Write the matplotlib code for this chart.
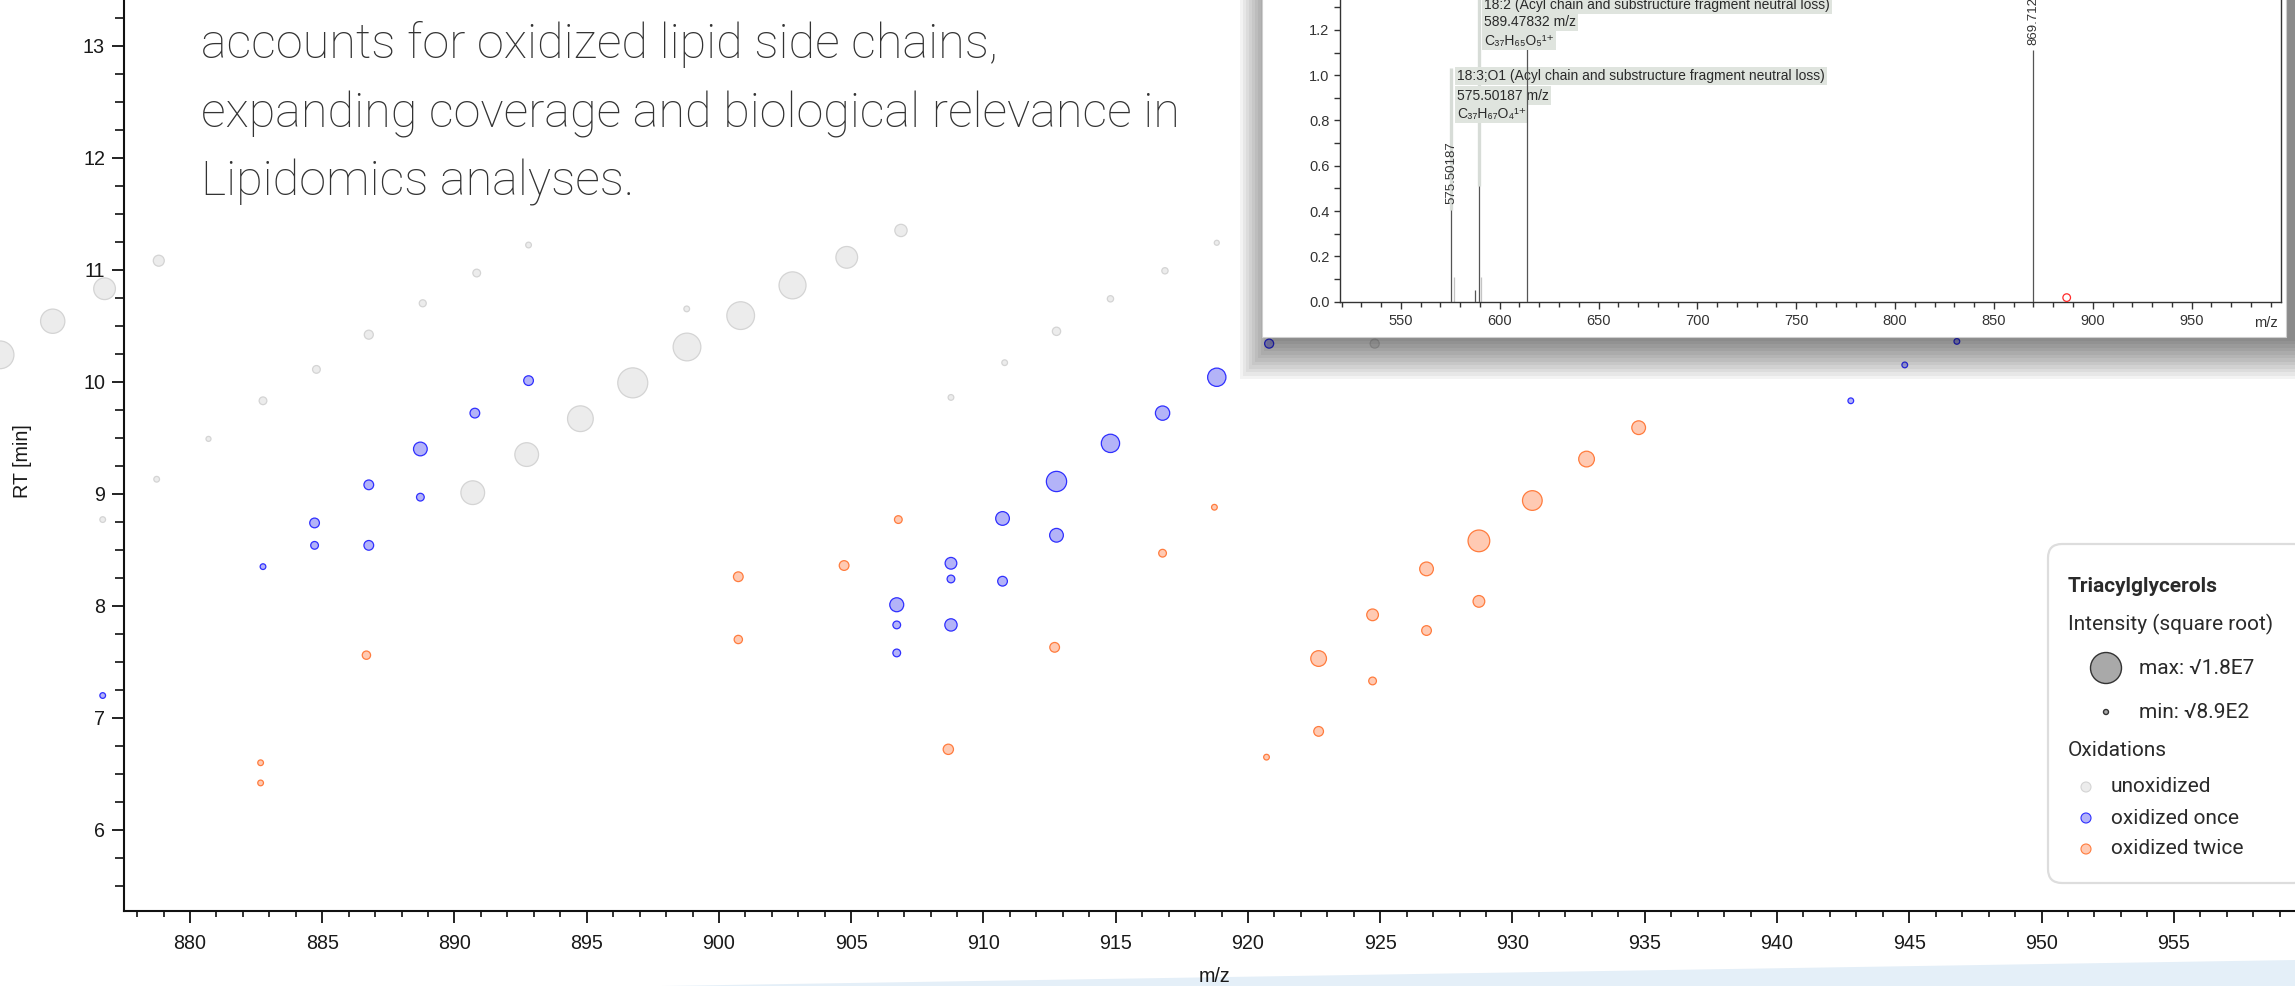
import numpy as np
import matplotlib.pyplot as plt
import matplotlib.transforms as mtransforms
from matplotlib.patches import Rectangle, FancyBboxPatch, Polygon, Circle
from matplotlib.ticker import MultipleLocator

W, H, DPI = 2295, 986, 100

## triacylglycerol features: m/z, retention time [min], intensity
unox_mz = [872.82, 874.81, 876.77, 878.82, 878.74, 876.70, 880.70, 882.76, 884.78, 886.76,
           888.80, 890.84, 892.80, 890.69, 892.73, 894.76, 896.74, 898.79, 900.82, 902.78,
           904.83, 906.88, 898.78, 908.77, 910.80, 912.76, 914.80, 916.86, 918.82, 924.79]
unox_rt = [10.24, 10.54, 10.83, 11.08, 9.13, 8.77, 9.49, 9.83, 10.11, 10.42,
           10.70, 10.97, 11.22, 9.01, 9.35, 9.67, 9.99, 10.31, 10.59, 10.86,
           11.11, 11.35, 10.65, 9.86, 10.17, 10.45, 10.74, 10.99, 11.24, 10.34]
unox_int = [1.5e7, 1.1e7, 8.4e6, 1.35e6, 9.3e4, 9.3e4, 3.7e4, 4.0e5, 4.0e5, 7.1e5,
            2.7e5, 4.0e5, 9.3e4, 1.04e7, 1.04e7, 1.26e7, 1.8e7, 1.5e7, 1.5e7, 1.41e7,
            8.4e6, 1.89e6, 9.3e4, 9.3e4, 9.3e4, 5.3e5, 1.6e5, 1.6e5, 3.7e4, 7.1e5]

ox1_mz = [876.70, 882.76, 884.71, 884.71, 886.76, 886.76, 888.71, 888.71, 890.77, 892.80,
          906.72, 906.72, 906.72, 908.77, 908.77, 908.77, 910.72, 910.72, 912.76, 912.76,
          914.80, 916.77, 918.82, 920.80, 942.79, 944.83, 946.80]
ox1_rt = [7.20, 8.35, 8.74, 8.54, 9.08, 8.54, 9.40, 8.97, 9.72, 10.01,
          8.01, 7.83, 7.58, 8.38, 8.24, 7.83, 8.78, 8.22, 9.11, 8.63,
          9.45, 9.72, 10.04, 10.34, 9.83, 10.15, 10.36]
ox1_int = [9.3e4, 9.3e4, 9.1e5, 4.0e5, 9.1e5, 9.1e5, 2.57e6, 4.0e5, 9.1e5, 9.1e5,
           2.7e6, 4.0e5, 4.0e5, 1.63e6, 4.0e5, 1.89e6, 2.57e6, 9.1e5, 7.1e6, 2.57e6,
           5.5e6, 2.89e6, 5.5e6, 7.1e5, 9.3e4, 9.3e4, 9.3e4]

ox2_mz = [882.67, 882.67, 886.67, 900.73, 900.73, 904.73, 906.78, 908.67, 912.69, 916.77,
          918.73, 920.70, 922.67, 922.67, 924.71, 924.71, 926.75, 926.75, 928.73, 928.73,
          930.75, 932.80, 934.77]
ox2_rt = [6.60, 6.42, 7.56, 8.26, 7.70, 8.36, 8.77, 6.72, 7.63, 8.47,
          8.88, 6.65, 7.53, 6.88, 7.92, 7.33, 8.33, 7.78, 8.58, 8.04,
          8.94, 9.31, 9.59]
ox2_int = [9.3e4, 9.3e4, 5.3e5, 9.1e5, 5.3e5, 9.1e5, 4.0e5, 1.1e6, 9.1e5, 4.0e5,
           9.3e4, 9.3e4, 3.71e6, 9.1e5, 1.63e6, 4.0e5, 2.57e6, 9.1e5, 8.4e6, 1.63e6,
           6.6e6, 3.71e6, 2.57e6]

int_min, int_max = 8.9e2, 1.8e7
groups = ["unoxidized", "oxidized once", "oxidized twice"]

## MS2 spectrum (inset)
peak_mz = [575.50187, 587.4, 589.47832, 613.7, 869.7126]
peak_int = [0.405, 0.05, 0.51, 1.115, 1.11]
iso_mz = [576.9, 590.7]
iso_int = [0.11, 0.11]
precursor_mz, precursor_int = 886.8, 0.018
frag_18_2 = ["18:2 (Acyl chain and substructure fragment neutral loss)", "589.47832 m/z", "C₃₇H₆₅O₅¹⁺"]
frag_18_3 = ["18:3;O1 (Acyl chain and substructure fragment neutral loss)", "575.50187 m/z", "C₃₇H₆₇O₄¹⁺"]

blurb = ["accounts for oxidized lipid side chains,",
         "expanding coverage and biological relevance in",
         "Lipidomics analyses."]

face = {"unoxidized": "#ececec", "oxidized once": "#b3b3f8", "oxidized twice": "#ffcab3"}
edge = {"unoxidized": "#d4d4d4", "oxidized once": "#2f2fff", "oxidized twice": "#ff7c3e"}
TICKF = ["Liberation Sans", "DejaVu Sans"]
ROBO = ["Roboto", "DejaVu Sans"]


def marker_diam(intensity):
    ## sqrt-intensity -> marker diameter in px
    r = (np.sqrt(np.asarray(intensity)) - np.sqrt(int_min)) / (np.sqrt(int_max) - np.sqrt(int_min))
    return 5 + 26 * r


fig = plt.figure(figsize=(W / DPI, H / DPI), dpi=DPI)
pxt = mtransforms.Affine2D().scale(1, -1).translate(0, H)  ## pixel coords, origin top-left

## ----- main scatter -----
ax = fig.add_axes([124 / W, (H - 911) / H, (W - 124) / W, 981 / H])
ax.set_zorder(0)
for g, mz, rt, it in zip(groups, [unox_mz, ox1_mz, ox2_mz], [unox_rt, ox1_rt, ox2_rt],
                         [unox_int, ox1_int, ox2_int]):
    d = marker_diam(it)
    ax.scatter(mz, rt, s=((d - 1) * 72 / DPI) ** 2, facecolor=face[g], edgecolor=edge[g],
               linewidth=0.9, clip_on=False, zorder=3)

ax.set_xlim(877.505, 959.584)
ax.set_ylim(5.2772, 14.031)
ax.set_xticks(np.arange(880, 960, 5))
ax.set_yticks(np.arange(6, 15, 1))
ax.xaxis.set_minor_locator(MultipleLocator(1))
ax.yaxis.set_minor_locator(MultipleLocator(0.25))
for s in ["top", "right"]:
    ax.spines[s].set_visible(False)
for s in ["left", "bottom"]:
    ax.spines[s].set_linewidth(1.5)
    ax.spines[s].set_color("#111111")
ax.tick_params(which="major", direction="out", length=8.6, width=1.3, color="#111111",
               labelsize=14.2, labelcolor="#1a1a1a")
ax.tick_params(axis="x", which="major", pad=8)
ax.tick_params(axis="y", which="major", pad=5)
ax.tick_params(axis="x", which="minor", direction="out", length=4.3, width=1.2, color="#111111")
ax.tick_params(axis="y", which="minor", direction="out", length=6.5, width=1.2, color="#111111")
for lab in ax.get_xticklabels() + ax.get_yticklabels():
    lab.set_fontfamily(TICKF)

fig.text(22, 461, "RT [min]", transform=pxt, rotation=90, ha="center", va="center",
         fontsize=14.2, family=TICKF, color="#1a1a1a")
fig.text(1215, 976, "m/z", transform=pxt, ha="center", va="center",
         fontsize=14.2, family=TICKF, color="#1a1a1a")

## bottom swoosh
fig.add_artist(Polygon([(600, 987), (2296, 960), (2296, 987)], closed=True, transform=pxt,
                       facecolor="#e4eff8", edgecolor="none", zorder=-1))

## overlay text
for i, line in enumerate(blurb):
    fig.text(201, 58 + i * 69, line, transform=pxt, ha="left", va="baseline", fontsize=35,
             family=ROBO, fontweight="light", color="#333333", zorder=5)

## ----- inset spectrum panel -----
for k in range(1, 13):
    fig.add_artist(Rectangle((1276 - 3 * k, -10), W + 10 - (1276 - 3 * k), 347 + 3.5 * k,
                             transform=pxt, facecolor="black", alpha=0.048,
                             edgecolor="none", zorder=1))
fig.add_artist(Rectangle((1262, -10), 1024, 347, transform=pxt, facecolor="white",
                         edgecolor="#cfcfcf", linewidth=0.8, zorder=2))

ax2 = fig.add_axes([1340 / W, (H - 301.7) / H, (2281 - 1340) / W, 341.7 / H])
ax2.set_zorder(3)
ax2.patch.set_alpha(0)
ax2.set_xlim(519.22, 995.2)
ax2.set_ylim(0, 1.5086)
ax2.spines["top"].set_visible(False)
for s in ["left", "bottom", "right"]:
    ax2.spines[s].set_linewidth(1.0)
    ax2.spines[s].set_color("#333333")
ax2.set_xticks(np.arange(550, 1000, 50))
ax2.xaxis.set_minor_locator(MultipleLocator(10))
ax2.set_yticks(np.arange(0, 1.5, 0.2))
ax2.yaxis.set_minor_locator(MultipleLocator(0.1))
ax2.set_yticklabels([f"{v:.1f}" for v in np.arange(0, 1.5, 0.2)])
ax2.tick_params(which="both", direction="out", color="#333333", width=1.0,
                labelsize=10.5, labelcolor="#333333")
ax2.tick_params(axis="x", which="major", length=5.2, pad=4)
ax2.tick_params(axis="x", which="minor", length=3.4)
ax2.tick_params(axis="y", which="both", length=4.6, pad=3)
for lab in ax2.get_xticklabels() + ax2.get_yticklabels():
    lab.set_fontfamily(TICKF)
ax2.text(2266, 323, "m/z", transform=pxt, ha="center", va="center", fontsize=10.5,
         family=TICKF, color="#333333")

## connectors from peaks to labels
ax2.vlines([peak_mz[0]], peak_int[0], 1.03, color="#d7dcd7", linewidth=2.4, zorder=1)
ax2.vlines([peak_mz[2]], peak_int[2], 1.5, color="#d7dcd7", linewidth=2.4, zorder=1)

ax2.vlines(iso_mz, 0, iso_int, color="#c4c4c4", linewidth=0.9, zorder=2)
ax2.vlines(peak_mz, 0, peak_int, color="#555555", linewidth=0.9, zorder=4)
ax2.scatter([precursor_mz], [precursor_int], s=30, facecolor="none", edgecolor="#ff2a2a",
            linewidth=0.9, zorder=4, clip_on=False)

ax2.text(peak_mz[0], 0.43, f"{peak_mz[0]:.5f}", rotation=90, ha="center", va="bottom",
         fontsize=9.5, family=TICKF, color="#333333", zorder=5)
ax2.text(peak_mz[4], 1.133, f"{peak_mz[4]:.5f}", rotation=90, ha="center", va="bottom",
         fontsize=9.5, family=TICKF, color="#333333", zorder=5)

box = dict(facecolor="#dfe4de", edgecolor="none", pad=1.6)
for lines, x0, ys, zz in [(frag_18_2, 592.0, [1.31, 1.235, 1.153], 5),
                          (frag_18_3, 578.4, [0.996, 0.910, 0.828], 3)]:
    for txt, yy in zip(lines, ys):
        ax2.text(x0, yy, txt, ha="left", va="center", fontsize=10, family=TICKF,
                 color="#2a2a2a", bbox=box, zorder=zz)

## ----- legend -----
fig.add_artist(FancyBboxPatch((2048, 544), 260, 339, boxstyle="round,pad=0,rounding_size=14",
                              transform=pxt, facecolor="white", edgecolor="#dddddd",
                              linewidth=1.6, zorder=4))
leg_txt = dict(transform=pxt, ha="left", va="center", family=ROBO, color="#2a2a2a", zorder=5)
fig.text(2068, 586, "Triacylglycerols", fontsize=15, fontweight="bold", **leg_txt)
fig.text(2068, 624, "Intensity (square root)", fontsize=15, **leg_txt)
for val, yy in [(int_max, 668), (int_min, 712)]:
    r = marker_diam(val) / 2
    fig.add_artist(Circle((2106, yy), r, transform=pxt, facecolor="#a9a9a9",
                          edgecolor="#333333", linewidth=1.0, zorder=5))
fig.text(2139, 668, f"max: √{int_max:.1E}".replace("E+0", "E"), fontsize=15, **leg_txt)
fig.text(2139, 712, f"min: √{int_min:.1E}".replace("E+0", "E"), fontsize=15, **leg_txt)
fig.text(2068, 750, "Oxidations", fontsize=15, **leg_txt)
for g, yy in zip(groups, [787, 818, 849]):
    fig.add_artist(Circle((2086, yy), 5, transform=pxt, facecolor=face[g], edgecolor=edge[g],
                          linewidth=0.8, zorder=5))
    fig.text(2111, yy, g, fontsize=15, **leg_txt)

fig.savefig("out.png", dpi=DPI)
